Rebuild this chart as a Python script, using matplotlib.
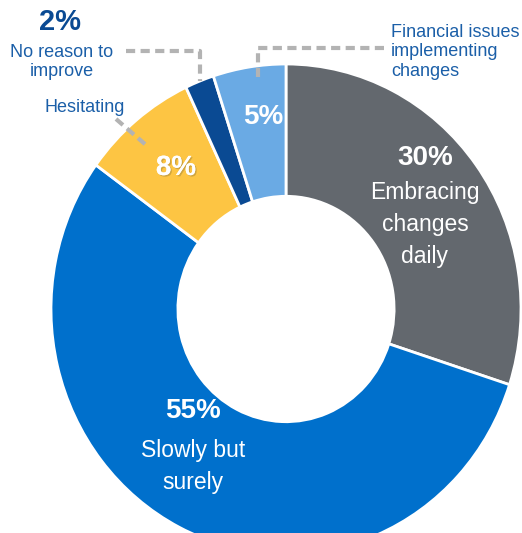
import matplotlib.pyplot as plt
from matplotlib.lines import Line2D
import matplotlib.patheffects as pe

plt.rcParams['font.family'] = ['Liberation Sans', 'DejaVu Sans']

# ===== DATA =====
labels = ['Embracing\nchanges\ndaily', 'Slowly but\nsurely', 'Hesitating',
          'No reason to\nimprove', 'Financial issues\nimplementing\nchanges']
values = [30, 55, 8, 2, 5]
colors = ['#63686e', '#0070cc', '#fdc543', '#0a4a93', '#6aaae4']

W, H = 522, 533
fig = plt.figure(figsize=(W / 100, H / 100), dpi=100)
ax = fig.add_axes([0, 0, 1, 1])

# donut centre / radii in pixels (reference is slightly taller than wide)
cx, cy, rx, ry = 286, 309, 235, 245

ax.pie(values, colors=colors, startangle=90, counterclock=False,
       wedgeprops=dict(width=0.54, edgecolor='white', linewidth=2))
ax.set_aspect('auto')
ax.set_xlim(-cx / rx, (W - cx) / rx)
ax.set_ylim(-(H - cy) / ry, cy / ry)
ax.axis('off')


def fpos(x, y):
    """pixel (from top-left) -> figure fraction"""
    return x / W, 1 - y / H


def txt(x, y, s, **kw):
    fx, fy = fpos(x, y)
    fig.text(fx, fy, s, transform=fig.transFigure, **kw)


def leader(pts):
    xs = [p[0] / W for p in pts]
    ys = [1 - p[1] / H for p in pts]
    fig.add_artist(Line2D(xs, ys, transform=fig.transFigure, color='#b3b3b3',
                          lw=3, linestyle=(0, (2.2, 1.3))))


label_col = '#1b5fa8'
shadow = [pe.withSimplePatchShadow(offset=(1, -1), shadow_rgbFace='#7a6a3a', alpha=0.35), pe.Normal()]

# inside labels
txt(425, 158, f'{values[0]}%', color='white', fontsize=20, fontweight='bold', ha='center', va='center')
txt(425, 224, labels[0], color='white', fontsize=16.5, ha='center', va='center', linespacing=1.5)
txt(193, 411, f'{values[1]}%', color='white', fontsize=20, fontweight='bold', ha='center', va='center')
txt(193, 467, labels[1], color='white', fontsize=16.5, ha='center', va='center', linespacing=1.5)
txt(176, 168, f'{values[2]}%', color='white', fontsize=20, fontweight='bold', ha='center', va='center',
    path_effects=shadow)
txt(263, 117, f'{values[4]}%', color='white', fontsize=20, fontweight='bold', ha='center', va='center')

# outside labels
txt(60, 22, f'{values[3]}%', color='#0a4a93', fontsize=21, fontweight='bold', ha='center', va='center')
txt(62, 62, labels[3], color=label_col, fontsize=13, ha='center', va='center', linespacing=1.22)
txt(85, 107, labels[2], color=label_col, fontsize=13, ha='center', va='center')
txt(391, 52, labels[4], color=label_col, fontsize=13, ha='left', va='center', linespacing=1.18)

# leader lines
leader([(126, 51), (200, 51), (200, 81)])
leader([(258, 77), (258, 48), (384, 48)])
leader([(116, 119), (146, 145)])

fig.savefig('out.png', dpi=100)
